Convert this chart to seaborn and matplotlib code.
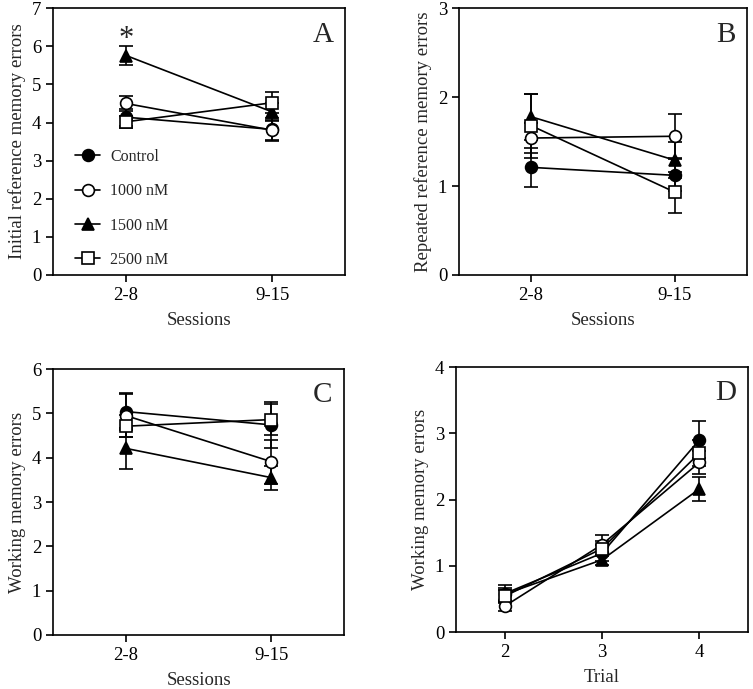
import numpy as np
import pandas as pd
import seaborn as sns
import matplotlib.pyplot as plt

sns.set_style('ticks')
plt.rcParams['font.family'] = ['Liberation Serif', 'DejaVu Serif']

groups = ["Control", "1000 nM", "1500 nM", "2500 nM"]
markers = ["o", "o", "^", "s"]
faces = ["black", "white", "black", "white"]

sessions = ["2-8", "9-15"]
trials = [2, 3, 4]

# panel A: initial reference memory errors
a_mean = {"Control": [4.14, 3.82], "1000 nM": [4.50, 3.80],
          "1500 nM": [5.76, 4.28], "2500 nM": [4.02, 4.52]}
a_se = {"Control": [0.22, 0.30], "1000 nM": [0.20, 0.25],
        "1500 nM": [0.26, 0.22], "2500 nM": [0.16, 0.28]}

# panel B: repeated reference memory errors
b_mean = {"Control": [1.21, 1.12], "1000 nM": [1.54, 1.56],
          "1500 nM": [1.78, 1.29], "2500 nM": [1.68, 0.93]}
b_se = {"Control": [0.22, 0.18], "1000 nM": [0.17, 0.25],
        "1500 nM": [0.26, 0.20], "2500 nM": [0.36, 0.23]}

# panel C: working memory errors by session block
c_mean = {"Control": [5.04, 4.74], "1000 nM": [4.95, 3.91],
          "1500 nM": [4.21, 3.55], "2500 nM": [4.71, 4.86]}
c_se = {"Control": [0.42, 0.52], "1000 nM": [0.48, 0.50],
        "1500 nM": [0.47, 0.27], "2500 nM": [0.25, 0.35]}

# panel D: working memory errors by trial
d_mean = {"Control": [0.58, 1.19, 2.90], "1000 nM": [0.39, 1.32, 2.56],
          "1500 nM": [0.57, 1.09, 2.16], "2500 nM": [0.54, 1.26, 2.70]}
d_se = {"Control": [0.13, 0.12, 0.28], "1000 nM": [0.08, 0.15, 0.18],
        "1500 nM": [0.10, 0.08, 0.18], "2500 nM": [0.10, 0.12, 0.20]}


def draw(ax, xs, means, ses):
    for g, m, fc in zip(groups, markers, faces):
        df = pd.DataFrame({"x": xs, "y": means[g]})
        ax.errorbar(df["x"], df["y"], yerr=ses[g], fmt="none", ecolor="black",
                    elinewidth=1.2, capsize=5, capthick=1.2, zorder=2)
        sns.lineplot(data=df, x="x", y="y", ax=ax, color="black", lw=1.2,
                     marker=m, markersize=8.5 if m != "s" else 8,
                     markerfacecolor=fc, markeredgecolor="black",
                     markeredgewidth=1.2, label=g, zorder=3, legend=False)


def style(ax, ymax, xlabel, ylabel, letter):
    ax.set_ylim(0, ymax)
    ax.set_yticks(range(0, ymax + 1))
    ax.set_xlabel(xlabel, fontsize=13.5, labelpad=6)
    ax.set_ylabel(ylabel, fontsize=13.5, labelpad=4)
    ax.tick_params(labelsize=13.5, direction="out", length=5, width=1.2,
                   colors="black")
    for s in ax.spines.values():
        s.set_visible(True)
        s.set_linewidth(1.2)
        s.set_color("black")
    ax.text(0.96, 0.95, letter, transform=ax.transAxes, fontsize=21,
            ha="right", va="top")


fig = plt.figure(figsize=(7.53, 6.89), dpi=100)
axA = fig.add_axes([0.0704, 0.601, 0.388, 0.387])
axB = fig.add_axes([0.6096, 0.601, 0.3824, 0.387])
axC = fig.add_axes([0.0704, 0.0784, 0.3866, 0.386])
axD = fig.add_axes([0.6056, 0.0827, 0.3878, 0.3846])

pos = list(range(len(sessions)))

draw(axA, pos, a_mean, a_se)
style(axA, 7, "Sessions", "Initial reference memory errors", "A")
axA.text(pos[0], 6.18, "*", fontsize=22, ha="center", va="center")
axA.legend(loc="center left", bbox_to_anchor=(0.075, 0.249), frameon=False,
           fontsize=11.5, borderpad=0, borderaxespad=0, handlelength=1.6,
           labelspacing=1.15, handletextpad=0.6)

draw(axB, pos, b_mean, b_se)
style(axB, 3, "Sessions", "Repeated reference memory errors", "B")

draw(axC, pos, c_mean, c_se)
style(axC, 6, "Sessions", "Working memory errors", "C")

for ax in (axA, axB, axC):
    ax.set_xlim(-0.5, 1.5)
    ax.set_xticks(pos)
    ax.set_xticklabels(sessions)

draw(axD, trials, d_mean, d_se)
style(axD, 4, "Trial", "Working memory errors", "D")
axD.set_xlim(1.5, 4.5)
axD.set_xticks(trials)

fig.savefig("out.png", dpi=100)
